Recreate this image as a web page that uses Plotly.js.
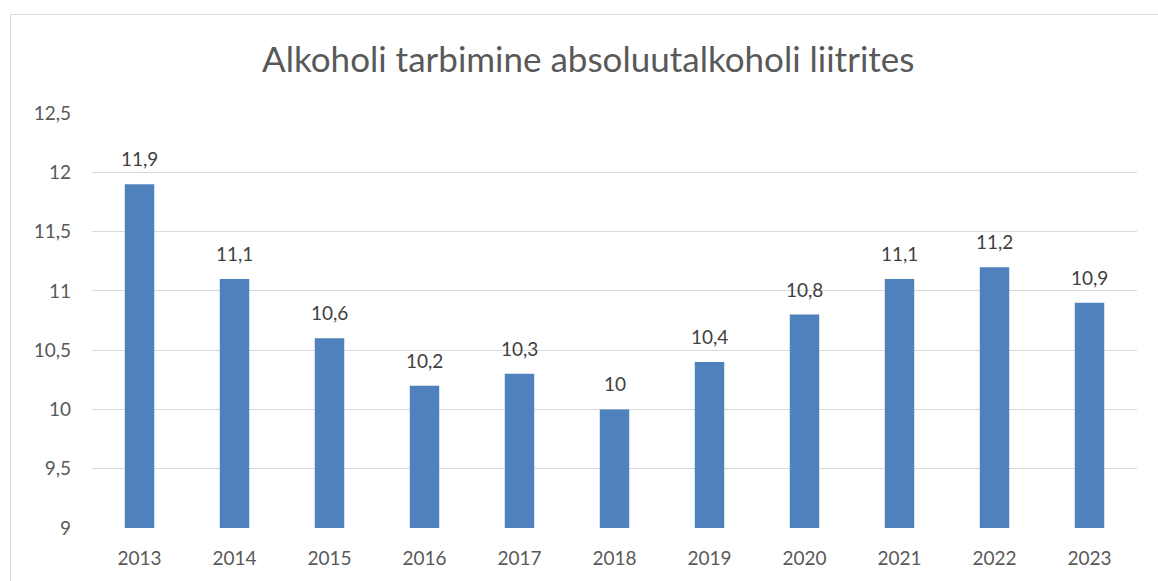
<!DOCTYPE html>
<html><head><meta charset="utf-8">
<script src="https://cdn.plot.ly/plotly-3.0.1.min.js"></script>
<style>
html,body{margin:0;padding:0;background:#fff;overflow:hidden;}
#frame{position:absolute;left:10px;top:14px;width:1200px;height:620px;border:1px solid #d9d9d9;}
#chart{position:absolute;left:0;top:0;width:1158px;height:581px;}
</style></head>
<body>
<div id="frame"></div>
<div id="chart"></div>
<script>
const years = ['2013','2014','2015','2016','2017','2018','2019','2020','2021','2022','2023'];
const liters = [11.9, 11.1, 10.6, 10.2, 10.3, 10, 10.4, 10.8, 11.1, 11.2, 10.9];
const yTicks = [9, 9.5, 10, 10.5, 11, 11.5, 12, 12.5];
const titleText = 'Alkoholi tarbimine absoluutalkoholi liitrites';

const FONT = 'Lato, "Open Sans", sans-serif';
const labels = liters.map(v => String(v).replace('.', ','));

const trace = {
  type: 'bar',
  x: years,
  y: liters,
  marker: {color: '#4f81bd'},
  hoverinfo: 'x+y'
};

// category axis: position annotations by category index
const annotations = years.map((yr, i) => ({
  x: i, y: liters[i], xref: 'x', yref: 'y',
  text: labels[i], showarrow: false,
  yanchor: 'bottom', yshift: 12,
  font: {family: FONT, size: 19, color: '#404040'}
}));

const layout = {
  width: 1158, height: 581,
  paper_bgcolor: 'rgba(0,0,0,0)',
  plot_bgcolor: 'rgba(0,0,0,0)',
  separators: ', ',
  margin: {l: 92, r: 21, t: 113, b: 53},
  bargap: 0.69,
  showlegend: false,
  annotations: annotations,
  title: {text: titleText, x: 0.508, xref: 'container', xanchor: 'center',
          y: 0.897, yref: 'container', yanchor: 'middle',
          font: {family: FONT, size: 35, color: '#595959'}},
  xaxis: {
    type: 'category',
    categoryarray: years, categoryorder: 'array',
    showgrid: false, zeroline: false,
    showline: false,
    tickfont: {family: FONT, size: 19, color: '#595959'},
    ticks: '', ticklabelstandoff: 17
  },
  yaxis: {
    range: [9, 12.5],
    tickvals: yTicks,
    showgrid: true, gridcolor: '#d9d9d9', gridwidth: 1,
    zeroline: false, showline: false,
    tickfont: {family: FONT, size: 19, color: '#595959'},
    ticks: '', ticklabelstandoff: 20
  }
};

Plotly.newPlot('chart', [trace], layout, {displayModeBar: false, staticPlot: true});
</script>
</body></html>
